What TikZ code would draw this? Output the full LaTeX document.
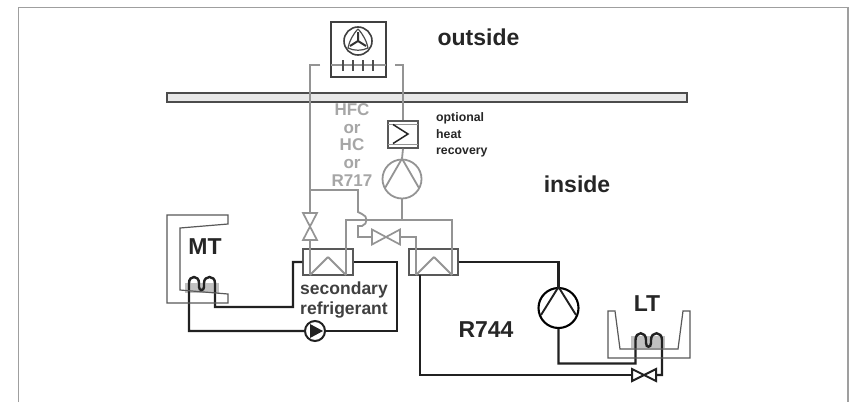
\documentclass[tikz,border=0pt]{standalone}
\usepackage{fontspec}
\setmainfont{Liberation Sans}
\definecolor{grayline}{gray}{0.58}
\definecolor{darkline}{gray}{0.13}
\tikzset{
  x=1pt,y=-1pt,
  frameline/.style={draw=gray!75,line width=1.3pt},
  glyph/.style={draw=grayline,line width=1.7pt},
  refr/.style={draw=grayline,line width=1.8pt,line join=miter},
  sec/.style={draw=darkline,line width=2.1pt,line join=miter},
  cab/.style={draw=black!65,line width=1.2pt,line join=miter},
  unit/.style={draw=black!65,line width=1.3pt,inner sep=0pt,minimum width=#1},
  bigtext/.style={font=\bfseries\fontsize{23}{25}\selectfont,text=black!85,inner sep=0pt},
  medtext/.style={font=\bfseries\fontsize{17.5}{20}\selectfont,text=black!75,inner sep=0pt,align=center},
  graytext/.style={font=\bfseries\fontsize{17}{17.6}\selectfont,text=gray!70,inner sep=0pt,align=center},
  smalltext/.style={font=\bfseries\fontsize{12.3}{16.6}\selectfont,text=black!85,inner sep=0pt,align=left},
}
\begin{document}
\begin{tikzpicture}
\useasboundingbox (0,0) rectangle (850,402);
\fill[white] (0,0) rectangle (850,402);
\draw[frameline] (18.5,402) -- (18.5,7.5) -- (848,7.5) -- (848,402);
% wall
\node (wall) at (427,97.5) [draw=black!70,fill=gray!18,line width=1.2pt,minimum width=520pt,minimum height=9pt,inner sep=0pt] {};
% units
\node (fan) at (358.5,49.5) [draw=black!75,line width=1.3pt,minimum width=55pt,minimum height=55pt,inner sep=0pt] {};
\node (rec) at (403,134.5) [draw=black!65,fill=white,line width=1.4pt,minimum width=30pt,minimum height=27pt,inner sep=0pt] {};
\node (comp1) at (402,179) [circle,draw=grayline,line width=1.8pt,minimum size=39pt,inner sep=0pt] {};
\node (hxA) at (328,262) [unit=50pt,minimum height=26pt] {};
\node (hxB) at (433.5,262) [unit=49pt,minimum height=26pt] {};
\node (comp2) at (558.5,308) [circle,draw=black,line width=2.1pt,minimum size=40pt,inner sep=0pt] {};
\node (pump) at (315,331) [circle,draw=darkline,line width=2pt,fill=white,minimum size=20pt,inner sep=0pt] {};
% named points
\coordinate (cL) at (310,65);
\coordinate (cR) at (403,65);
\coordinate (fanL) at (320,65);
\coordinate (fanR) at (395,65);
\coordinate (valveVtop) at (310,213);
\coordinate (valveVmid) at (310,226.5);
\coordinate (valveVbot) at (310,240);
\coordinate (hxAl) at (310,275);
\coordinate (hxAr) at (346,275);
\coordinate (hxAp) at (328,257);
\coordinate (hxBl) at (416,275);
\coordinate (hxBr) at (452,275);
\coordinate (hxBp) at (434,257);
\coordinate (tee) at (402,220);
\coordinate (valveHl) at (372,237);
\coordinate (valveHm) at (386,237);
\coordinate (valveHr) at (400,237);
% gray pipes
\draw[refr] (fanL) -- (cL) -- (valveVtop);
\draw[refr] (fanR) -- (cR) -- (rec.north);
\draw[refr] (rec.south) -- (comp1.north);
\draw[refr] (comp1.south) -- (tee);
\draw[refr] (valveVbot) -- (hxAl);
\draw[refr] (hxAp) -- (hxAl) (hxAp) -- (hxAr);
\draw[refr] (hxBp) -- (hxBl) (hxBp) -- (hxBr);
\draw[refr] (hxAr) -- (346,220) -- (452,220) -- (hxBr);
\draw[refr] (310,190) -- (358,190) -- (358,212) -- (362,214) .. controls (368,216) and (368,224) .. (362,226) -- (358,226) -- (358,237) -- (valveHl);
\draw[refr] (valveHr) -- (416,237) -- (hxBl);
\draw[glyph,fill=white] (valveVmid) -- (303,213) -- (317,213) -- cycle;
\draw[glyph,fill=white] (valveVmid) -- (303,240) -- (317,240) -- cycle;
\draw[glyph,fill=white] (valveHm) -- (372,229.5) -- (372,244.5) -- cycle;
\draw[glyph,fill=white] (valveHm) -- (400,229.5) -- (400,244.5) -- cycle;
% compressor 1
\draw[refr] (comp1.north) -- (385,188) (comp1.north) -- (419,188);
% fan symbol
\draw[draw=black!75,line width=1.6pt] (358,41) circle[radius=14];
\draw[draw=black!70,line width=1.2pt,line join=round]
  (358,29) .. controls (353,34) and (349,42) .. (348,48)
  .. controls (354,51) and (362,51) .. (368,48)
  .. controls (367,42) and (363,34) .. (358,29);
\draw[draw=black!80,line width=2pt] (358,41) -- (358,32) (358,41) -- (350,46) (358,41) -- (366,46);
% fan ticks and coil line
\draw[draw=grayline,line width=1.4pt] (331,65) -- (386,65);
\foreach \tx in {343,353,363,373}{\draw[draw=black!70,line width=1.3pt] (\tx,60) -- (\tx,71);}
% heat recovery symbol
\draw[draw=grayline,line width=1.1pt] (388,124.5) -- (418,124.5) (388,144.5) -- (418,144.5);
\draw[draw=black!85,line width=1.5pt,line join=miter] (393,124.5) -- (408,134) -- (393,143.5);
% coil backgrounds
\fill[black!40,opacity=.6] (185,283) rectangle (219,293);
\fill[black!40,opacity=.6] (631,336) rectangle (665,348);
% secondary circuit
\draw[sec,line width=2.4pt] (hxA.west) -- (293,262) -- (293,307) -- (215,307) -- (215,283)
  .. controls (215,275) and (204,275) .. (204,283) -- (204,287)
  .. controls (204,291) and (199,291) .. (199,287) -- (199,283)
  .. controls (199,275) and (189,275) .. (189,283) -- (189,331) -- (pump.west);
\draw[sec] (pump.east) -- (397,331) -- (397,262) -- (hxA.east);
\fill[darkline] (323,331) -- (310,324) -- (310,338) -- cycle;
% R744 circuit
\coordinate (lvCenter) at (644,375);
\coordinate (lvL) at (632,375);
\coordinate (lvR) at (656,375);
\draw[sec] (hxB.east) -- (558.5,262) -- (comp2.north);
\draw[sec,line width=2.4pt] (comp2.south) -- (558.5,363.5) -- (635.5,363.5) -- (635.5,340)
  .. controls (635.5,331) and (646,331) .. (646,340) -- (646,343)
  .. controls (646,348) and (651,348) .. (651,343) -- (651,340)
  .. controls (651,331) and (662,331) .. (662,340) -- (662,375) -- (lvR);
\draw[sec] (420,275) -- (420,375) -- (lvL);
\draw[sec,line width=1.9pt] (comp2.north) -- (541,315) (comp2.north) -- (576,315);
\draw[draw=darkline,fill=white,line width=2pt] (lvCenter) -- (632,369) -- (632,381) -- cycle;
\draw[draw=darkline,fill=white,line width=2pt] (lvCenter) -- (656,369) -- (656,381) -- cycle;
% cabinets
\draw[cab] (167,215) -- (228,215) -- (228,224) -- (180,228) -- (180,290) -- (228,294) -- (228,303) -- (167,303) -- cycle;
\draw[cab] (608,311) -- (615,311) -- (620,349) -- (678,349) -- (683,311) -- (690,311) -- (690,358) -- (608,358) -- cycle;
% labels
\node[bigtext] (outside) at (478.5,37) {outside};
\node[bigtext] (inside) at (577,184) {inside};
\node[bigtext] (mt) at (205,247) {MT};
\node[bigtext] (lt) at (647,304) {LT};
\node[bigtext] (r744) at (486,330) {R744};
\node[medtext] (secondary) at (344,300) {secondary\\refrigerant};
\node[graytext] (hfc) at (352,145) {HFC\\or\\HC\\or\\R717};
\node[smalltext,anchor=north west] (opt) at (436,112.5) {optional\\heat\\recovery};
\end{tikzpicture}
\end{document}
